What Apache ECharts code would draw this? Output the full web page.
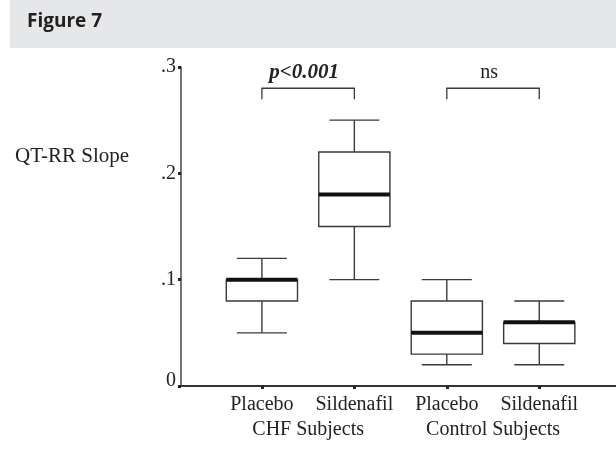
<!DOCTYPE html>
<html>
<head>
<meta charset="utf-8">
<script src="https://cdn.jsdelivr.net/npm/echarts@6/dist/echarts.min.js"></script>
<style>html,body{margin:0;padding:0;background:#fff;}#c{width:616px;height:452px;}</style>
</head>
<body>
<div id="c"></div>
<script>
// ---- data ----
const categories = ['Placebo', 'Sildenafil', 'Placebo', 'Sildenafil'];
const groups = ['CHF Subjects', 'Control Subjects'];
const whiskerLow = [0.05, 0.10, 0.02, 0.02];
const q1 = [0.08, 0.15, 0.03, 0.04];
const median = [0.10, 0.18, 0.05, 0.06];
const q3 = [0.10, 0.22, 0.08, 0.06];
const whiskerHigh = [0.12, 0.25, 0.10, 0.08];
const yTickLabels = ['0', '.1', '.2', '.3'];
const bracketFrom = [1, 3];
const bracketTo = [2, 4];
const bracketLabels = ['p<0.001', 'ns'];
const bracketLevel = [0.28, 0.28];

const SERIF = '"Liberation Serif", "Times New Roman", serif';
const boxData = categories.map((c, i) => [i + 1, whiskerLow[i], q1[i], median[i], q3[i], whiskerHigh[i]]);
const bracketData = bracketFrom.map((f, i) => [f, bracketTo[i], bracketLevel[i]]);

const chart = echarts.init(document.getElementById('c'), null, {renderer: 'canvas'});
const lineCol = '#3a3a3a';

chart.setOption({
  animation: false,
  backgroundColor: '#fff',
  grid: {left: 181, right: 0, top: 67, bottom: 66, containLabel: false},
  xAxis: [{
    type: 'value', min: 0.125, max: 4.83,
    splitLine: {show: false},
    axisLine: {show: true, lineStyle: {color: '#333', width: 2}},
    axisTick: {show: true, customValues: [1, 2, 3, 4], length: 3, lineStyle: {color: '#222', width: 3}},
    axisLabel: {show: true, customValues: [1, 2, 3, 4], margin: 9,
      formatter: v => categories[Math.round(v) - 1],
      fontFamily: SERIF, fontSize: 20, color: '#222'}
  }, {
    type: 'value', min: 0.125, max: 4.83, position: 'bottom', offset: 25,
    splitLine: {show: false}, axisLine: {show: false}, axisTick: {show: false},
    axisLabel: {show: true, customValues: [1.5, 3.5], margin: 9,
      formatter: v => groups[v < 2.5 ? 0 : 1],
      fontFamily: SERIF, fontSize: 20, color: '#222'}
  }],
  yAxis: {
    type: 'value', min: 0, max: 0.3, interval: 0.1,
    splitLine: {show: false},
    axisLine: {show: true, lineStyle: {color: '#444', width: 1.5}},
    axisTick: {show: true, length: 3, lineStyle: {color: '#222', width: 3}},
    axisLabel: {margin: 5, fontFamily: SERIF, fontSize: 20, color: '#222',
      formatter: v => { const s = yTickLabels[Math.round(v * 10)]; return v === 0 ? '{z|' + s + '}' : s; },
      rich: {z: {fontFamily: SERIF, fontSize: 20, color: '#222', padding: [0, 0, 11, 0]}}}
  },
  graphic: [
    {type: 'rect', shape: {x: 10, y: 0, width: 606, height: 48}, style: {fill: '#e6e7e8'}, z: -1},
    {type: 'text', x: 27, y: 12, style: {text: 'Figure 7', font: 'bold 19px "Open Sans", sans-serif', fill: '#231f20', verticalAlign: 'top'}},
    {type: 'text', x: 15, y: 146, style: {text: 'QT-RR Slope', font: '21px ' + SERIF, fill: '#222', verticalAlign: 'top'}}
  ],
  series: [{
    type: 'custom',
    xAxisIndex: 0,
    data: boxData,
    encode: {x: 0, y: [1, 2, 3, 4, 5]},
    renderItem: function (params, api) {
      const x = api.value(0);
      const lo = api.coord([x, api.value(1)]);
      const b1 = api.coord([x, api.value(2)]);
      const md = api.coord([x, api.value(3)]);
      const b3 = api.coord([x, api.value(4)]);
      const hi = api.coord([x, api.value(5)]);
      const unit = api.size([1, 0])[0];
      const bw = unit * 0.77, cw = unit * 0.54;
      const cx = lo[0];
      const ls = {stroke: lineCol, lineWidth: 1.4, fill: null};
      return {type: 'group', children: [
        {type: 'line', shape: {x1: cx, y1: hi[1], x2: cx, y2: b3[1]}, style: ls},
        {type: 'line', shape: {x1: cx, y1: b1[1], x2: cx, y2: lo[1]}, style: ls},
        {type: 'line', shape: {x1: cx - cw / 2, y1: hi[1], x2: cx + cw / 2, y2: hi[1]}, style: ls},
        {type: 'line', shape: {x1: cx - cw / 2, y1: lo[1], x2: cx + cw / 2, y2: lo[1]}, style: ls},
        {type: 'rect', shape: {x: cx - bw / 2, y: b3[1], width: bw, height: b1[1] - b3[1]}, style: {stroke: lineCol, lineWidth: 1.4, fill: '#fff'}},
        {type: 'line', shape: {x1: cx - bw / 2, y1: md[1], x2: cx + bw / 2, y2: md[1]}, style: {stroke: '#111', lineWidth: 4}}
      ]};
    }
  }, {
    type: 'custom',
    xAxisIndex: 0,
    data: bracketData,
    encode: {x: [0, 1], y: 2},
    renderItem: function (params, api) {
      const a = api.coord([api.value(0), api.value(2)]);
      const b = api.coord([api.value(1), api.value(2)]);
      const drop = 11;
      const label = bracketLabels[params.dataIndex];
      const bold = params.dataIndex === 0;
      return {type: 'group', children: [
        {type: 'polyline', shape: {points: [[a[0], a[1] + drop], [a[0], a[1]], [b[0], b[1]], [b[0], b[1] + drop]]},
          style: {stroke: lineCol, lineWidth: 1.3, fill: null}},
        {type: 'text', style: {text: label, x: (a[0] + b[0]) / 2 - 4, y: a[1] - 16,
          font: (bold ? 'italic bold 21px ' : '20px ') + SERIF, fill: '#222', align: 'center', verticalAlign: 'middle'}}
      ]};
    }
  }]
});
</script>
</body>
</html>
